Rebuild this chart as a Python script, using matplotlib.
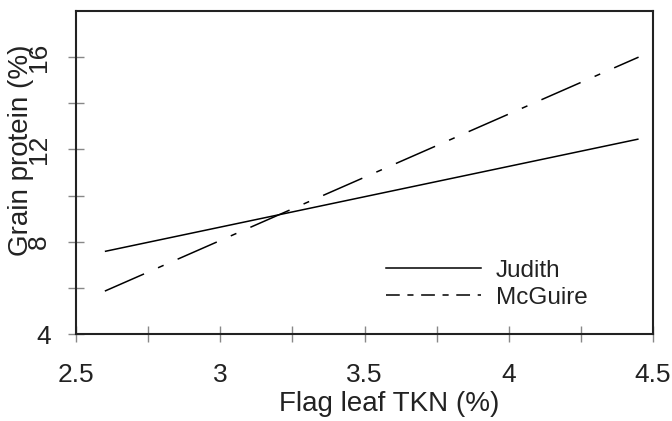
import matplotlib
matplotlib.use("Agg")
import matplotlib.pyplot as plt
from matplotlib.lines import Line2D

plt.rcParams['font.family'] = ['Liberation Sans', 'DejaVu Sans']

# 読み取った値 (直線の両端)
tkn = [2.6, 4.45]
judith = [7.58, 12.45]
mcguire = [5.86, 16.0]

x_ticks = [2.5, 3, 3.5, 4, 4.5]
x_tick_labels = ["2.5", "3", "3.5", "4", "4.5"]
y_ticks = [4, 8, 12, 16]
y_tick_labels = ["4", "8", "12", "16"]

fig = plt.figure(figsize=(6.72, 4.21), dpi=100)
ax = fig.add_axes([76 / 672, 1 - 334 / 421, (653 - 76) / 672, (334 - 11) / 421])

ax.plot(tkn, judith, color="black", linewidth=1.1, solid_capstyle="butt")
ax.plot(tkn, mcguire, color="black", linewidth=1.1, dashes=(28, 10, 4, 10))

ax.set_xlim(2.5, 4.5)
ax.set_ylim(4, 18)
ax.set_xticks(x_ticks)
ax.set_xticklabels(x_tick_labels)
ax.set_xticks([2.75, 3.25, 3.75, 4.25], minor=True)
ax.set_yticks(y_ticks)
ax.set_yticklabels(y_tick_labels)
ax.set_yticks([6, 10, 14], minor=True)

for s in ax.spines.values():
    s.set_linewidth(1.5)
    s.set_color("#222222")

ax.tick_params(axis="both", which="both", direction="inout", length=12,
               width=1, color="#888888", labelsize=19, labelcolor="#222222")
ax.tick_params(axis="x", pad=15)
ax.tick_params(axis="y", pad=12)

# 縦軸の目盛ラベルは 4 以外を回転 (元図の通り)
for lab in ax.get_yticklabels():
    if lab.get_text() != "4":
        lab.set_rotation(90)
        lab.set_va("center")

ax.set_xlabel("Flag leaf TKN (%)", fontsize=20, color="#222222")
ax.xaxis.set_label_coords(0.542, -0.177)
ax.set_ylabel("Grain protein (%)", fontsize=20, color="#222222")
ax.yaxis.set_label_coords(-0.073, 0.57)

# 凡例
h1 = Line2D([], [], color="black", linewidth=1.1)
h2 = Line2D([], [], color="black", linewidth=1.1, dashes=(9, 5, 4, 5))
leg = ax.legend([h1, h2], ["Judith", "McGuire"], loc="upper left",
                bbox_to_anchor=(0.538, 0.23), frameon=False, fontsize=17.5,
                handlelength=3.9, handletextpad=0.6, labelspacing=0.2,
                borderaxespad=0, borderpad=0)
for t in leg.get_texts():
    t.set_color("#222222")

fig.savefig("out.png", dpi=100)
